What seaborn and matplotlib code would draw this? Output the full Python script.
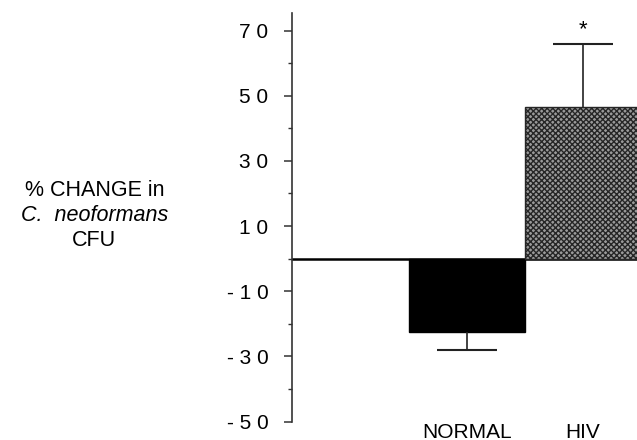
# plot.py

import numpy as np
import pandas as pd
import matplotlib
matplotlib.use('Agg')
import matplotlib.pyplot as plt
import seaborn as sns

# DATA
groups = ['NORMAL', 'HIV']
pct_change = [-22.4, 46.6]
err_low = [5.5, 0.0]
err_high = [0.0, 19.3]
signif = ['', '*']

major_ticks = [-50, -30, -10, 10, 30, 50, 70]
minor_ticks = [-40, -20, 0, 20, 40, 60]
tick_labels = ['- 5 0', '- 3 0', '- 1 0', '1 0', '3 0', '5 0', '7 0']

data = pd.DataFrame({'group': groups, 'change': pct_change})

# STYLE
sns.set_style('white')
plt.rcParams['font.family'] = ['Liberation Sans', 'DejaVu Sans']
plt.rcParams['text.color'] = 'black'
plt.rcParams['xtick.color'] = 'black'
plt.rcParams['ytick.color'] = 'black'
plt.rcParams['hatch.linewidth'] = 1.0

fig = plt.figure(figsize=(6.37, 4.40), dpi=100)
ax = fig.add_axes([0.4584, 0.042, 0.5416, 0.9285])

# ZERO LINE
ax.axhline(0, color='black', lw=1.8, zorder=0.5)

# BARS
sns.barplot(
    data=data,
    x='group',
    y='change',
    order=groups,
    palette=['black', '#9a9a9a'],
    hue='group',
    legend=False,
    width=1.0,
    errorbar=None,
    edgecolor='black',
    linewidth=1.0,
    ax=ax
)
ax.patches[1].set_hatch('xxxxxx')
ax.patches[1].set_edgecolor('#262626')

# ONE-SIDED ERROR BARS
xpos = np.arange(len(groups))
vals = np.array(pct_change)
ends = np.where(vals < 0, vals - np.array(err_low), vals + np.array(err_high))
ax.vlines(xpos, vals, ends, color='#222222', lw=1.2, zorder=5)
ax.hlines(ends, xpos - 0.26, xpos + 0.26, color='#222222', lw=1.5, zorder=5)

for i, s in enumerate(signif):
    if s:
        ax.annotate(s, (xpos[i], ends[i]),
                    xytext=(0, 3), textcoords='offset points',
                    ha='center', va='bottom', fontsize=16)

# AXES
ax.set_xlim(-1.51, 1.466)
ax.set_ylim(-50, 75.4)
ax.set_yticks(major_ticks)
ax.set_yticklabels(tick_labels, fontsize=15)
ax.set_yticks(minor_ticks, minor=True)
ax.tick_params(axis='y', which='major', direction='out', length=6,
               width=1.1, pad=11, left=True, color='#333333')
ax.tick_params(axis='y', which='minor', direction='out', length=2.8,
               width=1.0, left=True, color='#333333')
ax.tick_params(axis='x', length=0, pad=1, labelsize=15)
ax.set_xlabel('')
ax.set_ylabel('')

for side in ['top', 'right', 'bottom']:
    ax.spines[side].set_visible(False)
ax.spines['left'].set_color('#333333')
ax.spines['left'].set_linewidth(1.2)

# Y LABEL
fig.text(0.148, 1 - 190 / 440, '% CHANGE in', ha='center', va='center', fontsize=15.5)
fig.text(0.148, 1 - 215 / 440, 'C.  neoformans', ha='center', va='center',
         fontsize=15.5, style='italic')
fig.text(0.148, 1 - 240 / 440, 'CFU', ha='center', va='center', fontsize=15.5)

fig.savefig('out.png', dpi=100)
